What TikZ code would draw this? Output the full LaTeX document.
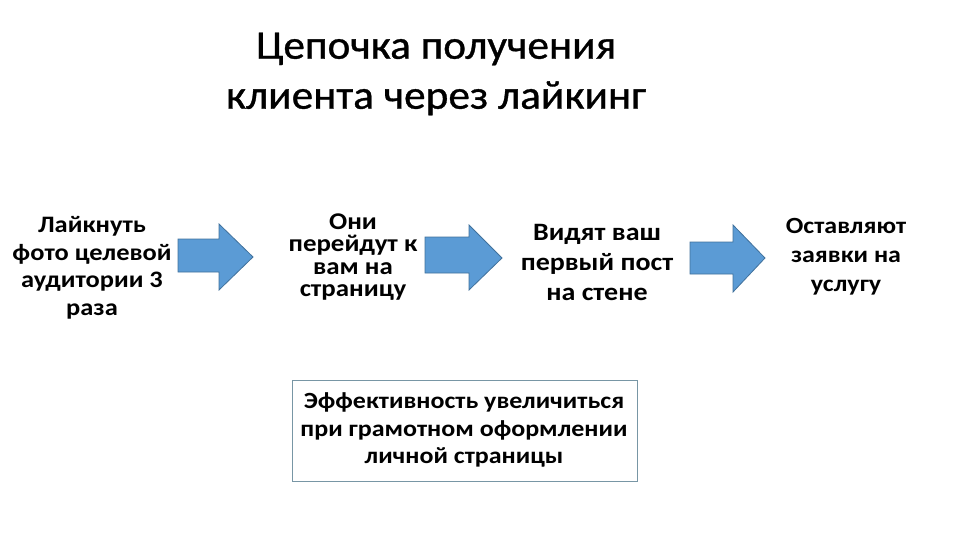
\documentclass[tikz,border=0pt]{standalone}
\usepackage{fontspec}
\setmainfont{Carlito}
\newfontfamily\widefont[FakeStretch=1.12]{Carlito}
\newfontfamily\titlefont[FakeStretch=1.07,FakeBold=0.8]{Carlito}
\definecolor{arrowfill}{RGB}{91,155,213}
\definecolor{arrowline}{RGB}{65,113,156}
\definecolor{frameline}{RGB}{120,150,165}
\begin{document}
\begin{tikzpicture}[x=1pt,y=-1pt,
  steptext/.style={align=center,inner sep=0pt},
  blockarrow/.style={fill=arrowfill,draw=arrowline,line width=0.8pt,line join=miter},
  notebox/.style={draw=frameline,line width=1pt}]
\useasboundingbox (0,0) rectangle (960,540);
\node[align=center,inner sep=0pt,font=\titlefont\fontsize{40.5}{50}\selectfont] (title) at (436,74) {Цепочка получения\\клиента через лайкинг};
\node[steptext,font=\widefont\bfseries\fontsize{23.6}{27.5}\selectfont] (s1) at (92,268) {Лайкнуть\\фото целевой\\аудитории 3\\раза};
\node[steptext,font=\widefont\bfseries\fontsize{24}{22.5}\selectfont] (s2) at (353,257) {Они\\перейдут к\\вам на\\страницу};
\node[steptext,font=\widefont\bfseries\fontsize{25}{30}\selectfont] (s3) at (597,262) {Видят ваш\\первый пост\\на стене};
\node[steptext,font=\widefont\bfseries\fontsize{23.2}{29}\selectfont] (s4) at (846,257) {Оставляют\\заявки на\\услугу};
\draw[blockarrow] (178,239) -- (219,239) -- (219,224) -- (253,257) -- (219,290) -- (219,272) -- (178,272) -- cycle;
\draw[blockarrow] (425,237) -- (469,237) -- (469,225) -- (502,258) -- (469,290) -- (469,273) -- (425,273) -- cycle;
\draw[blockarrow] (690,242) -- (733,242) -- (733,225) -- (765,258) -- (733,292) -- (733,274) -- (690,274) -- cycle;
\draw[notebox] (292,380) rectangle (637,481);
\node[steptext,font=\widefont\bfseries\fontsize{23.2}{27.5}\selectfont] (note) at (464,430) {Эффективность увеличиться\\при грамотном оформлении\\личной страницы};
\end{tikzpicture}
\end{document}
